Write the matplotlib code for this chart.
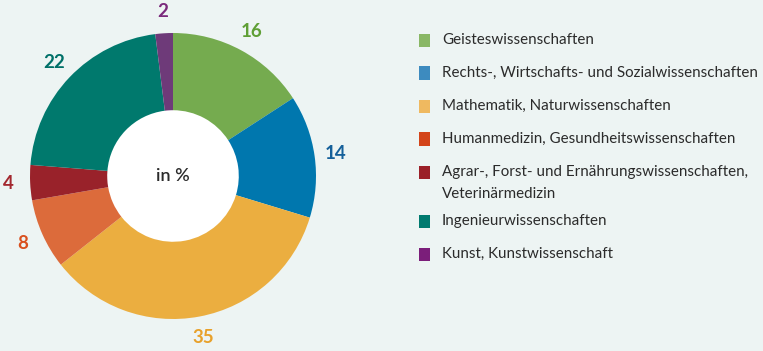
import matplotlib
matplotlib.use("Agg")
import matplotlib.pyplot as plt
from matplotlib.patches import Rectangle

# Anteile der Fächergruppen in %
fachgruppen = [
    "Geisteswissenschaften",
    "Rechts-, Wirtschafts- und Sozialwissenschaften",
    "Mathematik, Naturwissenschaften",
    "Humanmedizin, Gesundheitswissenschaften",
    "Agrar-, Forst- und Ernährungswissenschaften,\nVeterinärmedizin",
    "Ingenieurwissenschaften",
    "Kunst, Kunstwissenschaft",
]
anteile = [16, 14, 35, 8, 4, 22, 2]

farben_ring = ["#75ab4f", "#0077ae", "#ebae40", "#dc6b3b", "#99222a", "#00796d", "#6e3a79"]
farben_zahl = ["#5f9f35", "#15609a", "#e8a12b", "#d9501e", "#a3282f", "#007068", "#7b2a7c"]
farben_legende = ["#89b765", "#3d8bbf", "#efb960", "#d34419", "#9b2028", "#007a6f", "#7b1e7a"]

hintergrund = "#edf4f3"
textfarbe = "#2b2b2b"

plt.rcParams["font.family"] = ["Lato", "DejaVu Sans"]

W, H = 763, 351
fig = plt.figure(figsize=(W / 100, H / 100), dpi=100, facecolor=hintergrund)

# Ring: Mittelpunkt (173, 176) px, Radius 143 px
cx, cy, r, box = 173, 176, 143, 170
ax = fig.add_axes([(cx - box) / W, (H - cy - box) / H, 2 * box / W, 2 * box / H])
ax.set_facecolor(hintergrund)
lim = box / r
ax.set_aspect("equal")
ax.axis("off")

wedges, texts = ax.pie(
    anteile,
    labels=[str(a) for a in anteile],
    colors=farben_ring,
    startangle=90,
    counterclock=False,
    labeldistance=1.15,
    radius=1.0,
    wedgeprops=dict(width=0.54, linewidth=0),
)
for t, c in zip(texts, farben_zahl):
    t.set_color(c)
    t.set_fontsize(13.5)
    t.set_fontweight("bold")
    t.set_ha("center")
    t.set_va("center")
ax.set_xlim(-lim, lim)
ax.set_ylim(-lim, lim)

# innerer Kreis weiß
ax.add_patch(plt.Circle((0, 0), 0.46, color="white", zorder=0.5))
ax.text(0, 0, "in %", ha="center", va="center", fontsize=13, color=textfarbe,
        fontweight="semibold")

# Legende
x_box, x_text = 419, 442
y = 40
for name, farbe in zip(fachgruppen, farben_legende):
    fig.patches.append(Rectangle((x_box / W, (H - y - 6.5) / H), 11 / W, 13 / H,
                                 transform=fig.transFigure, facecolor=farbe, edgecolor="none"))
    zeilen = name.split("\n")
    for i, z in enumerate(zeilen):
        fig.text(x_text / W, (H - y - i * 22) / H, z, ha="left", va="center",
                 fontsize=10.9, color=textfarbe)
    y += 33 + (len(zeilen) - 1) * 16

fig.savefig("out.png", dpi=100, facecolor=hintergrund)
